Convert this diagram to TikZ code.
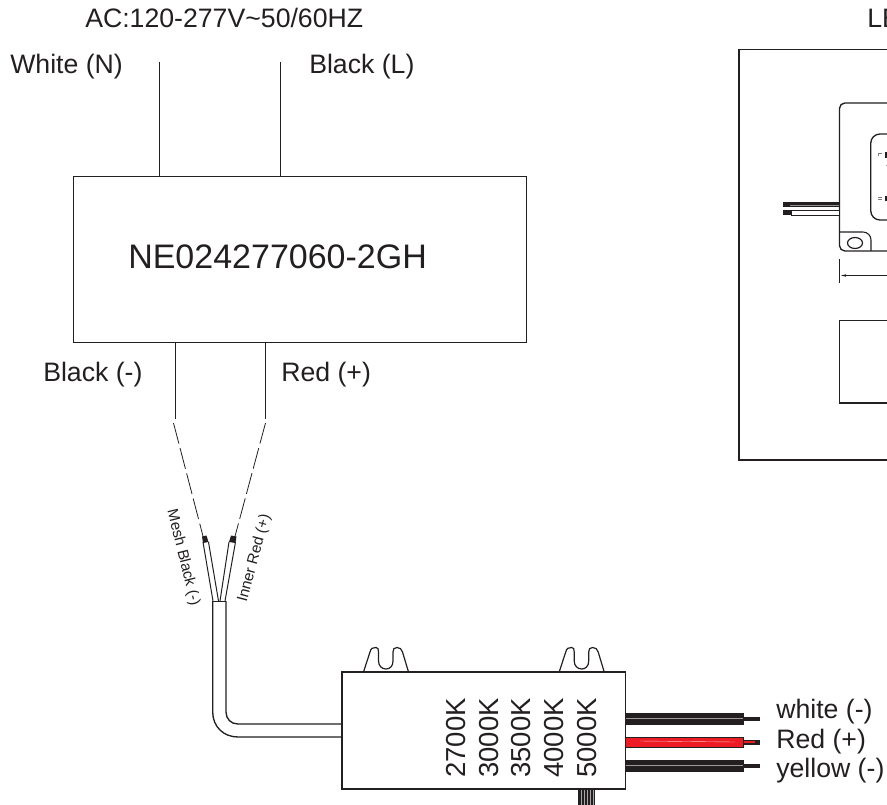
\documentclass[tikz,border=0pt]{standalone}
\usepackage{fontspec}
\setmainfont{Liberation Sans}
\definecolor{ink}{HTML}{231F20}
\definecolor{wirered}{HTML}{ED1C24}
\tikzset{
  x=0.75pt,y=-0.75pt,
  lbl/.style={inner sep=0,anchor=base west,text=ink,font=\fontsize{20}{24}\selectfont},
  cct/.style={inner sep=0,rotate=90,text=ink,font=\fontsize{20.6}{24}\selectfont},
  small/.style={inner sep=0,text=ink,font=\fontsize{11.4}{13}\selectfont},
  thin line/.style={draw=ink,line width=0.75pt},
  box line/.style={draw=ink,line width=1pt},
  boxnode/.style={draw=ink,line width=0.75pt,inner sep=0,rectangle},
  blackwire/.style={fill=ink,draw=ink,line width=0.4pt},
}
\begin{document}
\begin{tikzpicture}
\useasboundingbox (0,0) rectangle (887,805);
\clip (0,0) rectangle (887,805);
% ---- driver
\node[boxnode,minimum width=339.75pt,minimum height=123.75pt] (psu) at (299.5,259.5) {};
\node[inner sep=0,anchor=base west,text=ink,font=\fontsize{25.5}{30}\selectfont] (model) at (128,268) {NE024277060-2GH};
\node[lbl] (ac) at (85,28) {AC:120-277V\textasciitilde 50/60HZ};
\node[lbl] (wn) at (10,74) {White (N)};
\node[lbl] (bl) at (309,74) {Black (L)};
\node[lbl] (bm) at (43,381) {Black (-)};
\node[lbl] (rp) at (281,381) {Red (+)};
\node[lbl] (le) at (867,28) {LE};
\coordinate (acn) at (159,62);
\coordinate (acl) at (280,62);
\draw[thin line] (acn) -- (acn |- psu.north);
\draw[thin line] (acl) -- (acl |- psu.north);
\coordinate (outb) at (175,419);
\coordinate (outr) at (265,419);
\draw[thin line] (outb |- psu.south) -- (outb);
\draw[thin line] (outr |- psu.south) -- (outr);
% dashed extension
\coordinate (tipb) at (204,540);
\coordinate (tipr) at (234,540);
\draw[draw=ink,line width=0.6pt,dash pattern=on 16pt off 3.5pt] (173.5,423) -- (tipb);
\draw[draw=ink,line width=0.6pt,dash pattern=on 16pt off 3.5pt] (265.5,423) -- (tipr);
% split wires
\draw[thin line] (203,542) -- (213,601);
\draw[thin line] (208.5,542) -- (218.5,601);
\draw[thin line] (229,542) -- (220,601);
\draw[thin line] (235.5,542) -- (225,601);
\fill[ink] (202,536.5) -- (206.5,535.5) -- (208.5,542) -- (203,543) -- cycle;
\fill[ink] (231,535.5) -- (236.5,536.5) -- (235.5,543) -- (229,542) -- cycle;
\node[small,rotate=-76] (mesh) at (183,557.5) {Mesh Black (-)};
\node[small,rotate=75] (inner) at (254.5,558.5) {Inner Red (+)};
% ---- controller
\node[boxnode,line width=1pt,minimum width=212.6pt,minimum height=87.75pt] (ctl) at (483.75,730.5) {};
% cable
\coordinate (cabL) at (212.7,601);
\coordinate (cabR) at (226,601);
\draw[thin line] (cabL) -- (cabR);
\draw[box line] (cabL) -- (212.7,712) .. controls (212.7,727) and (224,737) .. (238,737) -- (ctl.west |- 0,737);
\draw[box line] (cabR) -- (226,712) .. controls (226,719) and (231,724) .. (238,724) -- (ctl.west |- 0,724);
% clips
\foreach \dx in {0,195.7}{
\begin{scope}[xshift=\dx*0.75pt]
\draw[draw=ink,line width=0.9pt] (363.5,672) -- (370,652) .. controls (371,648) and (373,647.5) .. (376,647.5)
  .. controls (378,647.5) and (378.5,649) .. (378.5,652) -- (378.5,661)
  .. controls (378.5,666) and (382,669) .. (386,669)
  .. controls (390,669) and (393,666) .. (393,661) -- (393,652)
  .. controls (393,649) and (394,647.5) .. (397,647.5)
  .. controls (400,647.5) and (401.5,649) .. (402.5,652) -- (408.5,672);
\end{scope}}
% CCT labels
\node[cct] (k27) at (456,738) {2700K};
\node[cct] (k30) at (489,738) {3000K};
\node[cct] (k35) at (521.5,738) {3500K};
\node[cct] (k40) at (554,738) {4000K};
\node[cct] (k50) at (587,738) {5000K};
% knob
\fill[ink] (578,789.5) rectangle (594.5,805);
\foreach \kx in {581,584,587,590,593}
  \draw[white!60!ink,line width=0.4pt] (\kx,790) -- (\kx,805);
% output wires
\foreach \wy in {713,760}{
  \fill[ink] (743,\wy+3.5) rectangle (760,\wy+8);
  \draw[blackwire] (625.8,\wy) rectangle (743,\wy+11);
  \draw[white!55!ink,line width=0.4pt] (626,\wy+5.5) -- (743,\wy+5.5);
}
\fill[ink] (743,740) rectangle (760,744.5);
\fill[wirered] (743.5,741.3) rectangle (755,743.2);
\draw[fill=wirered,draw=ink,line width=0.6pt] (625.8,737) rectangle (743,747);
\draw[white!70!wirered,line width=0.3pt] (640,741) -- (735,742);
\node[lbl] (lw) at (776,718) {white (-)};
\node[lbl] (lr) at (776,748) {Red (+)};
\node[lbl] (ly) at (776,777) {yellow (-)};
% ---- LED driver panel (cut by the page)
\draw[draw=ink,line width=1pt] (890,49.5) -- (739,49.5) -- (739,460) -- (890,460);
\draw[draw=ink,line width=1pt,rounded corners=4pt] (895,103) -- (839.5,103) -- (839.5,251) -- (895,251);
\draw[draw=ink,line width=1pt,rounded corners=7pt] (895,134) -- (870.7,134) -- (870.7,220) -- (895,220);
\draw[draw=ink,line width=0.8pt,rounded corners=6pt] (839.5,232) -- (871,232) -- (871,251);
\draw[draw=ink,line width=0.9pt] (855,243) ellipse [x radius=7.5,y radius=5.5];
% marks
\draw[draw=ink!60,line width=0.4pt] (878,156) -- (878,153) -- (882,153);
\draw[draw=ink!60,line width=0.4pt] (878,197) -- (882,197) (878,199.5) -- (882,199.5);
\fill[ink] (885,152) rectangle (887,158);
\fill[ink] (885,196) rectangle (887,201);
\fill[ink!50] (886,165.5) rectangle (887,166.5);
% lead wires
\fill[ink] (783,202.5) rectangle (840,207.5);
\draw[white!50!ink,line width=0.3pt] (790,205) -- (839,205);
\fill[ink] (783,210.5) rectangle (791,215);
\draw[draw=ink,line width=0.6pt,fill=white] (791,210) rectangle (839.5,215);
% dimension
\draw[thin line] (839.5,259) -- (839.5,283);
\draw[draw=ink,line width=0.6pt] (842,275.5) -- (890,275.5);
\fill[ink] (841,275.5) -- (846,274.3) -- (846,276.7) -- cycle;
% lower block
\draw[draw=ink,line width=1pt] (890,320.5) -- (839.5,320.5) -- (839.5,403) -- (890,403);
\end{tikzpicture}
\end{document}
